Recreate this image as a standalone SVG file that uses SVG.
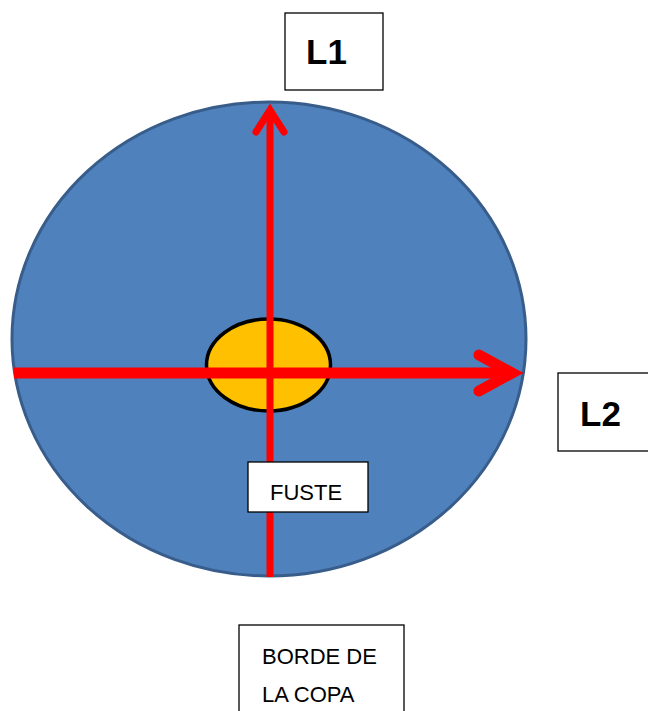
<svg xmlns="http://www.w3.org/2000/svg" width="648" height="711" viewBox="0 0 648 711">
<style>
.box{fill:#fff;stroke:#000;stroke-width:1.3}
.lbl{font-family:"Liberation Sans",Arial,sans-serif;font-size:22px;fill:#000}
.big{font-family:"Liberation Sans",Arial,sans-serif;font-size:35px;font-weight:bold;fill:#000}
.red{stroke:#FF0000;fill:none;stroke-linecap:butt}
.head{stroke:#FF0000;fill:none;stroke-linecap:round;stroke-linejoin:miter}
</style>
<rect width="648" height="711" fill="#fff"/>
<g id="copa">
<ellipse cx="269" cy="339" rx="257" ry="237" fill="#4F81BD" stroke="#385D8A" stroke-width="3"/>
</g>
<g id="fuste-shape">
<ellipse cx="268.5" cy="365" rx="62" ry="46" fill="#FFC000" stroke="#000" stroke-width="3.5"/>
</g>
<g id="connectors">
<line class="red" x1="270" y1="577" x2="270" y2="110" stroke-width="7"/>
<polyline class="head" points="256,132 270,110 284,132" stroke-width="7"/>
<line class="red" x1="14" y1="373" x2="512" y2="373" stroke-width="11"/>
<polyline class="head" points="479,355 512,373 479,391" stroke-width="11"/>
</g>
<g id="L1">
<rect class="box" x="285" y="13" width="98" height="77"/>
<text class="big" x="306" y="64">L1</text>
</g>
<g id="L2">
<rect class="box" x="558" y="373" width="95" height="78"/>
<text class="big" x="580" y="426">L2</text>
</g>
<g id="fuste">
<rect class="box" x="248" y="462" width="120" height="50"/>
<text class="lbl" x="270" y="500">FUSTE</text>
</g>
<g id="borde">
<rect class="box" x="239" y="625" width="165" height="95"/>
<text class="lbl" x="262" y="664">BORDE DE</text>
<text class="lbl" x="262" y="702">LA COPA</text>
</g>
</svg>
